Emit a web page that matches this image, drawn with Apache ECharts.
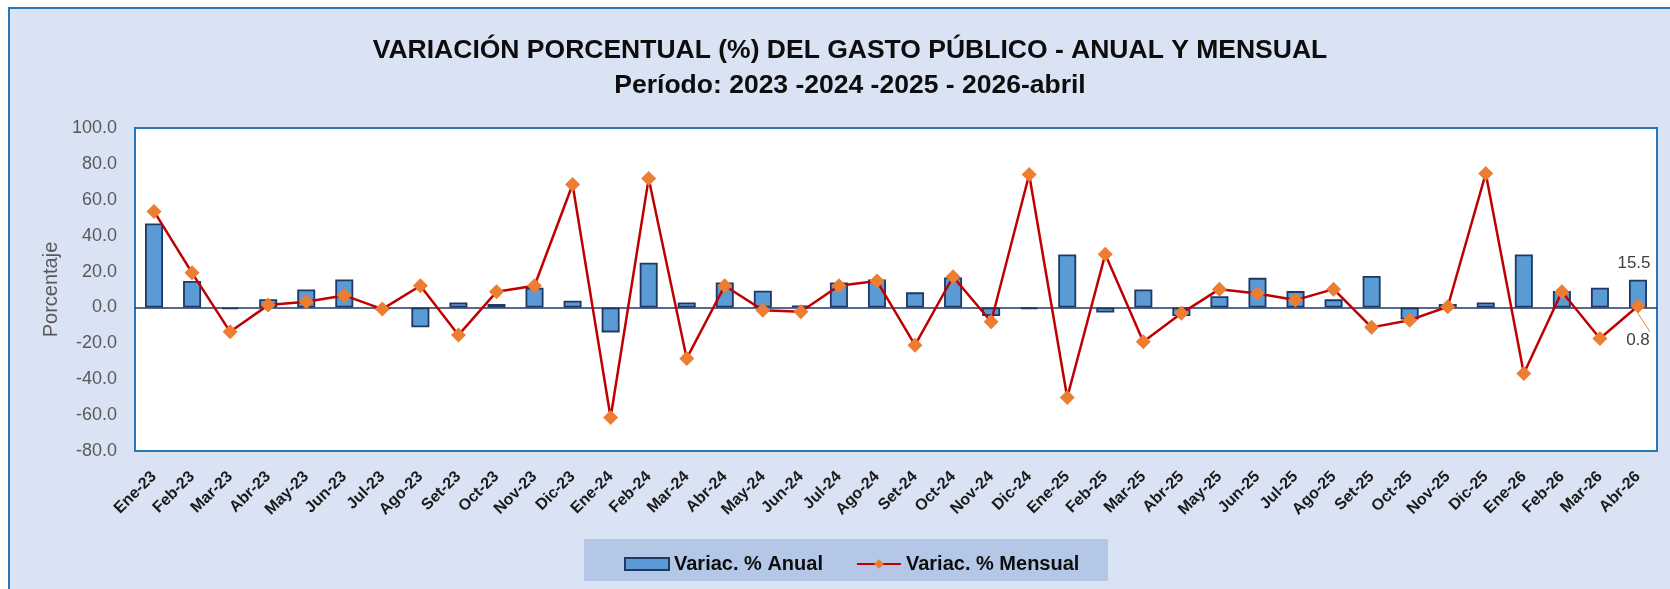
<!DOCTYPE html>
<html>
<head>
<meta charset="utf-8">
<script src="https://cdn.jsdelivr.net/npm/echarts@6/dist/echarts.min.js"></script>
<style>
html,body{margin:0;padding:0;background:#ffffff;}
#c{width:1670px;height:589px;}
</style>
</head>
<body>
<div id="c"></div>
<script>
const categories = ["Ene-23","Feb-23","Mar-23","Abr-23","May-23","Jun-23","Jul-23","Ago-23","Set-23","Oct-23","Nov-23","Dic-23",
  "Ene-24","Feb-24","Mar-24","Abr-24","May-24","Jun-24","Jul-24","Ago-24","Set-24","Oct-24","Nov-24","Dic-24",
  "Ene-25","Feb-25","Mar-25","Abr-25","May-25","Jun-25","Jul-25","Ago-25","Set-25","Oct-25","Nov-25","Dic-25",
  "Ene-26","Feb-26","Mar-26","Abr-26"];
const anual = [46.8,14.7,-1.0,4.6,10.0,15.6,-1.0,-11.1,2.8,1.9,11.0,3.7,
  -13.9,24.9,2.8,13.9,9.3,1.1,13.9,15.6,8.4,16.7,-4.8,-0.9,
  29.5,-2.8,10.0,-4.8,6.3,16.5,9.1,4.5,17.5,-6.7,1.9,2.8,
  29.5,9.1,11.0,15.5];
const mensual = [53.5,19.3,-13.6,1.3,3.2,6.7,-0.9,12.1,-15.4,8.7,12.1,68.5,
  -61.3,71.9,-28.4,12.1,-1.5,-2.4,12.1,14.7,-21.0,17.1,-8.0,74.1,
  -50.2,29.7,-19.1,-3.3,10.2,7.8,4.1,10.2,-11.1,-7.1,0.4,74.7,
  -36.8,8.7,-17.3,0.8];
const yTicks = {min:-80, max:100, interval:20};

const FONT = "'Liberation Sans',sans-serif";
const last = anual.length - 1;
const barData = anual.map((v,i)=> i===last ? {value:v, label:{show:true, position:'top', distance:8, offset:[-4,0], color:'#404040', fontSize:17, fontFamily:FONT, formatter:(p)=>p.value.toFixed(1)}} : v);
const lineData = mensual.map((v,i)=> i===last ? {value:v, label:{show:true, position:'bottom', distance:18, color:'#404040', fontSize:17, fontFamily:FONT, formatter:(p)=>p.value.toFixed(1)}} : v);

const chart = echarts.init(document.getElementById('c'), null, {renderer:'canvas'});
chart.setOption({
  animation:false,
  backgroundColor:'#ffffff',
  graphic:[
    {type:'rect', z:-10, shape:{x:9, y:8, width:1700, height:700}, style:{fill:'#dae3f3', stroke:'#2e75b6', lineWidth:2}},
    {type:'rect', z:-5, shape:{x:584, y:539, width:524, height:42}, style:{fill:'#b4c7e7'}}
  ],
  title:[
    {text:'VARIACIÓN PORCENTUAL (%) DEL GASTO PÚBLICO - ANUAL Y MENSUAL', left:845, top:32, textAlign:'center',
     textStyle:{fontFamily:FONT, fontWeight:'bold', fontSize:26.5, color:'#0d0d0d'}},
    {text:'Período: 2023 -2024 -2025 - 2026-abril', left:845, top:67, textAlign:'center',
     textStyle:{fontFamily:FONT, fontWeight:'bold', fontSize:26.5, color:'#0d0d0d'}}
  ],
  legend:{
    left:619, top:549, itemGap:33, itemWidth:44, itemHeight:12,
    textStyle:{fontFamily:FONT, fontWeight:'bold', fontSize:20, color:'#0d0d0d'},
    data:[
      {name:'Variac. % Anual', icon:'rect'},
      {name:'Variac. % Mensual'}
    ]
  },
  grid:{left:135, right:13, top:128, bottom:138, show:true, backgroundColor:'#ffffff', borderColor:'#2e75b6', borderWidth:2},
  xAxis:{
    type:'category', data:categories,
    axisLine:{show:false}, axisTick:{show:false},
    axisLabel:{rotate:45, interval:0, margin:23, fontFamily:FONT, fontWeight:'bold', fontSize:16, color:'#1a1a1a'}
  },
  yAxis:{
    type:'value', min:yTicks.min, max:yTicks.max, interval:yTicks.interval,
    name:'Porcentaje', nameLocation:'middle', nameGap:72, nameRotate:90,
    nameTextStyle:{fontFamily:FONT, fontSize:20, color:'#595959'},
    splitLine:{show:false}, axisLine:{show:false}, axisTick:{show:false},
    axisLabel:{margin:18, fontFamily:FONT, fontSize:18, color:'#595959', formatter:(v)=>v.toFixed(1)}
  },
  series:[
    {name:'Variac. % Anual', type:'bar', data:barData, barWidth:18,
     itemStyle:{color:'#5b9bd5', borderColor:'#1f3864', borderWidth:1.8},
     markLine:{silent:true, symbol:'none', label:{show:false}, lineStyle:{color:'#1f3864', width:1.5, type:'solid'}, data:[{yAxis:0}]}
    },
    {name:'Variac. % Mensual', type:'line', data:lineData, symbol:'diamond', symbolSize:15,
     lineStyle:{color:'#c00000', width:2.5}, itemStyle:{color:'#ed7d31'},
     labelLine:{show:true}, z:5}
  ]
});
</script>
</body>
</html>
